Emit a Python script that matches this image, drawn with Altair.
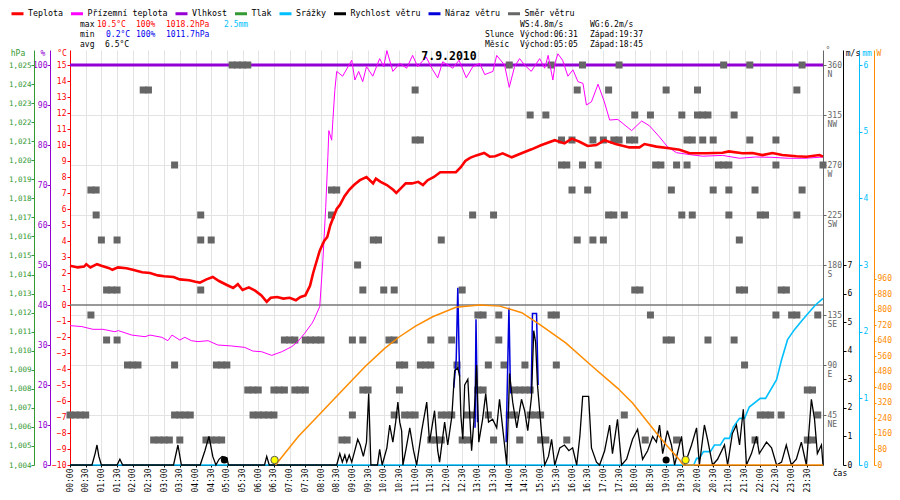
import altair as alt
import pandas as pd

MONO = "DejaVu Sans Mono"

# ---------------- data (hour of day, value) ----------------
temp = [(0.0, 2.45), (0.25, 2.35), (0.45, 2.4), (0.52, 2.55), (0.65, 2.35), (0.86, 2.55), (1.0, 2.45),
        (1.25, 2.3), (1.35, 2.2), (1.53, 2.35), (1.8, 2.3), (2.0, 2.2), (2.3, 2.05), (2.55, 2.0),
        (2.8, 1.85), (3.0, 1.8), (3.3, 1.75), (3.5, 1.6), (3.8, 1.55), (4.0, 1.45), (4.14, 1.4),
        (4.35, 1.6), (4.55, 1.75), (4.75, 1.5), (5.0, 1.25), (5.2, 1.06), (5.35, 1.3), (5.5, 0.94),
        (5.7, 1.1), (5.9, 0.9), (6.1, 0.6), (6.27, 0.2), (6.4, 0.45), (6.6, 0.5), (6.8, 0.4),
        (7.0, 0.45), (7.2, 0.3), (7.35, 0.5), (7.5, 0.6), (7.65, 1.2), (7.75, 2.0), (7.9, 3.0),
        (7.96, 3.4), (8.1, 4.0), (8.2, 4.25), (8.3, 5.0), (8.4, 5.5), (8.5, 6.0), (8.6, 6.25),
        (8.75, 6.8), (8.9, 7.2), (9.05, 7.5), (9.24, 7.8), (9.45, 8.0), (9.66, 7.6), (9.75, 7.9),
        (9.9, 7.7), (10.1, 7.5), (10.3, 7.2), (10.4, 7.0), (10.55, 7.3), (10.7, 7.6), (10.9, 7.6),
        (11.1, 7.7), (11.25, 7.5), (11.4, 7.8), (11.6, 8.0), (11.8, 8.3), (12.1, 8.3), (12.3, 8.3),
        (12.45, 8.6), (12.6, 9.0), (12.75, 9.2), (12.95, 9.35), (13.2, 9.5), (13.38, 9.27),
        (13.55, 9.3), (13.79, 9.48), (14.08, 9.23), (14.43, 9.52), (14.71, 9.73), (15.03, 10.0),
        (15.45, 10.3), (15.76, 10.1), (15.99, 10.4), (16.24, 10.2), (16.5, 9.94), (16.78, 10.0),
        (17.04, 10.3), (17.42, 10.04), (17.83, 9.85), (18.15, 9.85), (18.31, 10.06), (18.69, 9.9),
        (19.1, 9.8), (19.43, 9.7), (19.75, 9.48), (20.29, 9.48), (20.8, 9.52), (21.0, 9.6),
        (21.43, 9.48), (21.75, 9.5), (22.07, 9.37), (22.39, 9.5), (22.7, 9.37), (23.15, 9.3),
        (23.47, 9.27), (23.89, 9.37), (24.0, 9.27)]

ground = [(0.0, -1.29), (0.38, -1.35), (0.73, -1.52), (1.05, -1.52), (1.43, -1.67), (1.54, -1.6),
          (1.97, -1.88), (2.39, -1.98), (2.55, -1.88), (2.93, -2.02), (3.12, -2.23), (3.25, -1.88),
          (3.5, -2.19), (3.66, -2.02), (3.87, -2.23), (4.08, -2.29), (4.4, -2.23), (4.71, -2.5),
          (5.15, -2.56), (5.57, -2.65), (5.83, -2.88), (6.11, -2.92), (6.43, -3.15), (6.75, -2.92),
          (7.07, -2.6), (7.26, -2.29), (7.48, -1.77), (7.71, -1.15), (7.77, -0.94), (7.96, -0.1),
          (8.06, 2.8), (8.15, 6.1), (8.22, 9.3), (8.25, 10.9), (8.34, 10.3), (8.38, 11.6),
          (8.44, 13.4), (8.5, 14.6), (8.69, 14.3), (8.98, 15.3), (9.08, 14.06), (9.2, 14.6),
          (9.33, 13.96), (9.45, 14.9), (9.65, 14.3), (9.87, 15.4), (10.0, 14.9), (10.1, 15.9),
          (10.29, 14.6), (10.51, 15.1), (10.73, 14.8), (10.92, 15.6), (11.08, 14.9), (11.35, 15.5),
          (11.56, 14.7), (11.72, 14.2), (11.88, 15.2), (12.2, 14.8), (12.4, 15.3), (12.63, 14.2),
          (12.84, 14.9), (13.06, 15.1), (13.22, 14.4), (13.48, 14.6), (13.6, 15.6), (13.85, 15.0),
          (14.0, 13.6), (14.17, 14.9), (14.33, 15.4), (14.49, 15.0), (14.7, 14.6), (14.97, 15.4),
          (15.13, 14.8), (15.24, 15.6), (15.39, 14.06), (15.47, 15.2), (15.55, 15.7), (15.7, 15.3),
          (15.87, 14.3), (16.03, 14.7), (16.19, 13.96), (16.35, 13.85), (16.46, 12.5), (16.62, 12.7),
          (16.83, 13.8), (17.03, 12.7), (17.2, 11.56), (17.46, 11.6), (17.9, 10.9), (18.22, 11.5),
          (18.47, 11.2), (18.79, 10.5), (19.04, 9.9), (19.33, 9.52), (19.75, 9.4), (20.16, 9.3),
          (20.8, 9.35), (21.34, 9.17), (21.85, 9.25), (22.37, 9.23), (22.9, 9.17), (23.43, 9.17),
          (24.0, 9.25)]

humidity = [(0.0, 100), (24.0, 100)]
pressure_extremes = [1011.7, 1018.2]

precip = [(0.0, 0), (19.88, 0), (19.97, 0.1), (20.06, 0.1), (20.19, 0.2), (20.41, 0.2), (20.54, 0.3),
          (20.73, 0.3), (20.86, 0.4), (21.02, 0.4), (21.14, 0.57), (21.34, 0.7), (21.5, 0.7),
          (21.65, 0.87), (22.0, 1.0), (22.17, 1.0), (22.52, 1.28), (22.68, 1.58), (22.87, 1.88),
          (23.09, 2.03), (23.35, 2.18), (23.57, 2.3), (23.76, 2.4), (24.0, 2.5)]

wind = [(0.0, 0), (0.7, 0), (0.8, 0.4), (0.86, 0.7), (0.92, 0.3), (1.0, 0), (1.5, 0), (1.59, 0.2),
        (1.68, 0), (3.3, 0), (3.44, 0.7), (3.55, 0), (4.15, 0), (4.3, 0.5), (4.43, 1.0), (4.55, 0.3),
        (4.65, 0), (4.75, 0.2), (4.85, 0.3), (5.0, 0.25), (5.05, 0), (6.2, 0), (6.27, 0.3), (6.35, 0),
        (8.5, 0), (8.6, 0.4), (8.68, 0.1), (8.76, 0.35), (8.82, 0.1), (8.9, 0.35), (8.98, 0.1),
        (9.1, 0.6), (9.17, 0.9), (9.25, 0.7), (9.35, 0.3), (9.45, 0.8), (9.52, 2.5), (9.59, 0),
        (9.8, 0), (9.87, 0.55), (9.95, 0), (10.1, 0.6), (10.19, 1.4), (10.29, 0.8), (10.38, 1.5),
        (10.45, 2.2), (10.51, 1.5), (10.57, 1.2), (10.61, 0), (10.7, 0.5), (10.83, 1.3), (10.95, 0.5),
        (11.05, 0), (11.21, 1.2), (11.37, 2.2), (11.46, 0.8), (11.62, 1.9), (11.72, 0.5), (11.78, 0.1),
        (11.94, 1.5), (12.04, 0.7), (12.17, 1.7), (12.26, 3.3), (12.36, 3.4), (12.42, 3.1),
        (12.46, 1.7), (12.52, 0.9), (12.58, 2.8), (12.68, 3.0), (12.8, 0.5), (12.87, 1.5),
        (12.96, 3.5), (13.03, 0.8), (13.15, 1.6), (13.25, 2.5), (13.34, 1.5), (13.47, 1.6),
        (13.6, 1.3), (13.69, 2.3), (13.79, 1.3), (13.92, 0), (14.01, 3.2), (14.11, 2.2), (14.24, 1.3),
        (14.39, 2.3), (14.49, 1.9), (14.59, 1.2), (14.71, 2.4), (14.78, 4.7), (14.84, 4.3),
        (14.9, 2.8), (15.03, 1.1), (15.13, 0), (15.25, 0.3), (15.35, 0.9), (15.45, 0), (15.61, 0.6),
        (15.76, 0.7), (15.9, 0.5), (16.02, 0.6), (16.15, 0), (16.25, 1.0), (16.34, 2.4), (16.53, 2.4),
        (16.62, 0.6), (16.78, 0.1), (16.88, 0), (17.04, 0.5), (17.2, 1.4), (17.29, 0.4), (17.45, 1.6),
        (17.58, 0), (17.74, 0.2), (17.93, 0.9), (18.09, 1.25), (18.25, 0.2), (18.41, 0.5),
        (18.57, 1.0), (18.69, 0.8), (18.79, 1.4), (18.89, 0.4), (19.04, 1.2), (19.17, 0.7),
        (19.27, 0), (19.49, 1.0), (19.59, 0), (19.81, 0.7), (19.97, 1.3), (20.06, 0), (20.22, 1.4),
        (20.32, 0.9), (20.48, 0), (20.64, 0.2), (20.86, 0.7), (20.96, 0), (21.11, 1.1), (21.24, 1.4),
        (21.34, 0.7), (21.46, 1.95), (21.56, 0), (21.72, 0.4), (21.88, 1.0), (21.97, 0.4),
        (22.2, 0.8), (22.36, 0.6), (22.52, 0), (22.68, 0.1), (22.83, 0.7), (22.99, 0), (23.15, 0.2),
        (23.31, 0.8), (23.47, 0), (23.63, 2.3), (23.73, 1.6), (23.82, 0.4), (23.95, 0.7), (24.0, 0)]

# gust bursts: (hour, m/s, burst id)
gust = [(12.23, 2.7, 1), (12.31, 3.7, 1), (12.36, 6.2, 1), (12.40, 4.0, 1), (12.42, 3.1, 1),
        (12.91, 1.3, 2), (12.94, 5.1, 2), (12.99, 1.5, 2),
        (13.90, 0.8, 3), (13.99, 5.5, 3), (14.04, 2.5, 3),
        (14.70, 2.5, 4), (14.74, 5.3, 4), (14.87, 5.3, 4), (14.92, 2.8, 4)]

solar = [(6.55, 0), (7.27, 146), (8.0, 270), (8.66, 382), (9.4, 507), (10.03, 602), (10.5, 662),
         (11.0, 715), (11.56, 765), (12.3, 814), (13.06, 826), (13.7, 820), (14.4, 786), (15.0, 722),
         (15.8, 630), (16.66, 507), (17.45, 397), (17.93, 320), (18.69, 165), (19.0, 105),
         (19.43, 26), (19.55, 0), (24.0, 0)]

# wind direction samples: direction (deg) -> 10-minute slots of the day
dir_slots = {
    360.0: [31, 32, 33, 34, 84, 92, 98, 105, 125, 130, 140],
    337.5: [14, 15, 66, 97, 103, 114, 120, 139],
    315.0: [88, 91, 108, 111, 117, 120, 121, 122, 127],
    292.5: [66, 67, 94, 96, 100, 102, 104, 105, 107, 108, 118, 119, 121, 123, 130, 135],
    270.0: [20, 94, 95, 98, 101, 112, 113, 116, 118, 124, 125, 126, 135, 144],
    247.5: [4, 5, 50, 51, 96, 99, 115, 123, 126, 131, 140],
    225.0: [5, 25, 50, 77, 81, 103, 104, 106, 117, 119, 126, 132, 133, 139],
    202.5: [6, 9, 25, 27, 58, 59, 71, 97, 100, 102, 128],
    180.0: [55],
    157.5: [7, 8, 9, 25, 56, 60, 62, 75, 108, 109, 128, 129, 136, 137],
    135.0: [4, 78, 79, 82, 92, 93, 111, 135, 138, 139, 143],
    112.5: [7, 9, 41, 42, 43, 45, 46, 47, 48, 54, 56, 61, 62, 69, 73, 82, 114, 115, 122, 127],
    90.0: [11, 12, 13, 20, 28, 29, 30, 63, 64, 67, 68, 69, 74, 80, 83, 87, 93, 129],
    67.5: [34, 35, 36, 39, 40, 41, 43, 44, 45, 56, 57, 63, 78, 79, 85, 86, 87, 88, 141, 142],
    45.0: [0, 1, 2, 3, 20, 21, 22, 23, 35, 36, 37, 38, 39, 54, 62, 64, 65, 66, 71, 72, 73, 76, 77,
           80, 84, 85, 88, 89, 90, 106, 132, 133, 134, 136, 143],
    22.5: [16, 17, 18, 19, 21, 26, 27, 28, 29, 52, 53, 69, 70, 71, 75, 76, 81, 86, 90, 91, 95, 110,
           116, 131, 141, 142],
}

sun_events = [6.52, 19.62]
moon_events = [4.92, 19.0]

series_names = ["Teplota", "Přízemní teplota", "Vlhkost", "Tlak", "Srážky",
                "Rychlost větru", "Náraz větru", "Směr větru"]
series_colors = ["#ff0000", "#ff00ff", "#9400d3", "#339933", "#00bfff",
                 "#000000", "#0000dd", "#666666"]

x_ticks = [i * 0.5 for i in range(48)]
temp_ticks = list(range(-10, 16))
hum_ticks = list(range(0, 101, 10))
hpa_ticks = list(range(1004, 1026))
dir_ticks = [45, 90, 135, 180, 225, 270, 315, 360]
ms_ticks = list(range(0, 8))
mm_ticks = list(range(0, 7))
w_ticks = list(range(0, 961, 80))

# ---------------- layout ----------------
W, H = 753, 415
PX0, PY0 = 70, 50  # page position of plot origin

RED, MAG, PUR, GRN, SKY, BLU, GRY, ORG = "#ff0000", "#ff00ff", "#9400d3", "#339933", "#00bfff", "#0000dd", "#666666", "#ff8c00"

def sc(lo, hi):
    return alt.Scale(domain=[lo, hi], nice=False, zero=False)

TEMP = sc(-10, 15.9375)
HUM = sc(0, 103.75)
HPA = sc(1004, 1025.7875)
DIR = sc(0, 373.5)
MS = sc(0, 14.525)
MM = sc(0, 6.225)
WAT = sc(0, 2141.9)

def yaxis(orient, offset, values, color, pad=1, **kw):
    opts = dict(orient=orient, offset=offset, values=values, title=None, grid=False,
                domainColor=color, tickColor=color, labelColor=color, labelFont=MONO,
                labelFontSize=8, tickSize=3, labelPadding=pad, domainWidth=1,
                labelOverlap=False, labelFlush=False)
    opts.update(kw)
    return alt.Axis(**opts)

xaxis = alt.Axis(values=x_ticks, title=None,
                 labelExpr="(datum.value < 10 ? '0' : '') + floor(datum.value) + ':' + (datum.value % 1 > 0 ? '30' : '00')",
                 labelAngle=270, labelFont=MONO, labelFontSize=8, labelColor="black",
                 labelPadding=1, tickSize=2, tickColor="black", domainColor="black",
                 grid=True, gridColor="#e3e3e3", labelOverlap=False, labelFlush=False)

X = alt.X("h:Q", scale=alt.Scale(domain=[0, 24], nice=False, zero=False), axis=xaxis)

def frame(pairs, cols=("h", "v")):
    return pd.DataFrame(pairs, columns=list(cols))

df_temp = frame(temp); df_temp["series"] = "Teplota"
df_ground = frame(ground)
df_hum = frame(humidity)
df_p = pd.DataFrame({"p": pressure_extremes})
df_pr = frame(precip)
df_wind = frame(wind)
df_gust = frame(gust, ("h", "v", "seg"))
df_sol = frame(solar)
df_dir = pd.DataFrame([(s / 6.0, d) for d, slots in dir_slots.items() for s in slots], columns=["h", "d"])
df_sun = pd.DataFrame({"h": sun_events, "v": [0] * len(sun_events)})
df_moon = pd.DataFrame({"h": moon_events, "v": [0] * len(moon_events)})

dir_label = ("datum.value == 360 ? ['360','N'] : datum.value == 315 ? ['315','NW'] : "
             "datum.value == 270 ? ['270','W'] : datum.value == 225 ? ['225','SW'] : "
             "datum.value == 180 ? ['180','S'] : datum.value == 135 ? ['135','SE'] : "
             "datum.value == 90 ? ['90','E'] : ['45','NE']")

zero_rule = alt.Chart(pd.DataFrame({"t": [0]})).mark_rule(color="#777777", strokeWidth=1.5).encode(
    y=alt.Y("t:Q", scale=TEMP, axis=None))

hum_layer = alt.Chart(df_hum).mark_line(color=PUR, strokeWidth=3).encode(
    x=X, y=alt.Y("v:Q", scale=HUM, axis=yaxis("left", 20, hum_ticks, PUR, pad=0)))

p_layer = alt.Chart(df_p).mark_point(opacity=0).encode(
    x=alt.value(0), y=alt.Y("p:Q", scale=HPA,
                            axis=yaxis("left", 36, hpa_ticks, GRN, pad=0, labelFontSize=7.5)))

dir_layer = alt.Chart(df_dir).mark_square(size=49, color=GRY, opacity=1).encode(
    x=X, y=alt.Y("d:Q", scale=DIR,
                 axis=yaxis("right", 0, dir_ticks, GRY, grid=True, gridColor="#e3e3e3",
                            labelExpr=dir_label, labelLineHeight=9, labelBaseline="top",
                            labelOffset=-4)))

ground_layer = alt.Chart(df_ground).mark_line(color=MAG, strokeWidth=1).encode(
    x=X, y=alt.Y("v:Q", scale=TEMP, axis=None))

temp_layer = alt.Chart(df_temp).mark_line(strokeWidth=2.6).encode(
    x=X, y=alt.Y("v:Q", scale=TEMP, axis=yaxis("left", 0, temp_ticks, RED)),
    color=alt.Color("series:N", scale=alt.Scale(domain=series_names, range=series_colors),
                    legend=alt.Legend(orient="none", legendX=-60, legendY=-44, direction="horizontal",
                                      columns=8, title=None, labelFont=MONO, labelFontSize=8.3,
                                      labelColor="black", symbolType="stroke", symbolStrokeWidth=3,
                                      symbolSize=144, labelOffset=3, columnPadding=1.5, padding=0)))

sol_layer = alt.Chart(df_sol).mark_line(color=ORG, strokeWidth=1.5).encode(
    x=X, y=alt.Y("v:Q", scale=WAT, axis=yaxis("right", 51, w_ticks, ORG, tickSize=2)))

pr_layer = alt.Chart(df_pr).mark_line(color=SKY, strokeWidth=1.6).encode(
    x=X, y=alt.Y("v:Q", scale=MM, axis=yaxis("right", 36, mm_ticks, SKY)))

gust_layer = alt.Chart(df_gust).mark_line(color=BLU, strokeWidth=1.5).encode(
    x=X, y=alt.Y("v:Q", scale=MS, axis=None), detail="seg:N")

wind_layer = alt.Chart(df_wind).mark_line(color="black", strokeWidth=1.3).encode(
    x=X, y=alt.Y("v:Q", scale=MS, axis=yaxis("right", 20, ms_ticks, "black")))

sun_layer = alt.Chart(df_sun).mark_circle(size=55, color="#ffff00", stroke="#555555", strokeWidth=1,
                                          opacity=1, yOffset=-5).encode(
    x=X, y=alt.Y("v:Q", scale=MS, axis=None))

moon_layer = alt.Chart(df_moon).mark_circle(size=50, color="black", opacity=1, yOffset=-5).encode(
    x=X, y=alt.Y("v:Q", scale=MS, axis=None))

one = pd.DataFrame({"a": [0]})

def txt(s, px, py, color="black", size=8.0, weight="normal", align="left"):
    return alt.Chart(one).mark_text(text=s, align=align, baseline="middle", font=MONO,
                                    fontSize=size, fontWeight=weight, color=color).encode(
        x=alt.value(px - PX0), y=alt.value(py - PY0))

texts = [
    txt("max", 80, 25), txt("10.5°C", 97, 25, RED), txt("100%", 136, 25, RED),
    txt("1018.2hPa", 166, 25, RED), txt("2.5mm", 224, 25, SKY),
    txt("min", 80, 35), txt("0.2°C", 106, 35, "#0000ee"), txt("100%", 136, 35, "#0000ee"),
    txt("1011.7hPa", 166, 35, "#0000ee"),
    txt("avg", 80, 45), txt("6.5°C", 105, 45),
    txt("WS:4.8m/s", 520, 25), txt("WG:6.2m/s", 590, 25),
    txt("Slunce", 485, 35), txt("Východ:06:31", 520, 35), txt("Západ:19:37", 590, 35),
    txt("Měsíc", 485, 45), txt("Východ:05:05", 520, 45), txt("Západ:18:45", 590, 45),
    txt("7.9.2010", 449, 57, "black", 11.5, "bold", "center"),
    txt("hPa", 18, 54, GRN, align="center"), txt("%", 43, 54, PUR, align="center"),
    txt("°C", 62, 54, RED, align="center"),
    txt("°", 828, 51, GRY, align="center"), txt("m/s", 853, 54, "black", align="center"),
    txt("mm", 867, 54, SKY, align="center"), txt("W", 879, 54, ORG, align="center"),
    txt("čas", 840, 474, "black", align="center"),
]

chart = alt.layer(
    zero_rule, hum_layer, p_layer, dir_layer, ground_layer, temp_layer,
    pr_layer, gust_layer, wind_layer, sol_layer, sun_layer, moon_layer, *texts
).resolve_scale(y="independent").properties(
    width=W, height=H,
    autosize=alt.AutoSizeParams(type="none"),
    padding={"left": 62, "top": 42, "right": 69, "bottom": 27},
    background="white",
).configure_view(stroke=None)

chart.save("out.html", embed_options={"renderer": "svg", "actions": False})
